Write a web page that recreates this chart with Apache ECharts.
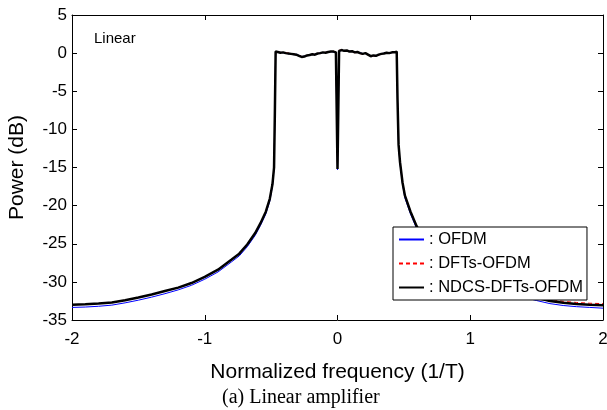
<!DOCTYPE html>
<html>
<head>
<meta charset="utf-8">
<script src="https://cdn.jsdelivr.net/npm/echarts@6/dist/echarts.min.js"></script>
<style>html,body{margin:0;padding:0;background:#fff}#c{width:607px;height:410px}</style>
</head>
<body>
<div id="c"></div>
<script>
const freq = [-2.0,-1.9,-1.8,-1.7,-1.6,-1.5,-1.4,-1.3,-1.2,-1.1,-1.0,-0.9,-0.8,-0.74,-0.68,-0.62,-0.58,-0.54,-0.51,-0.49,-0.478,-0.472,-0.466,
 -0.45,-0.43,-0.41,-0.39,-0.37,-0.35,-0.33,-0.31,-0.29,-0.27,-0.25,-0.23,-0.21,-0.19,-0.17,-0.15,-0.13,-0.11,-0.09,-0.07,-0.05,-0.03,
 -0.012,0,0.012,
 0.03,0.05,0.07,0.09,0.11,0.13,0.15,0.17,0.19,0.21,0.23,0.25,0.27,0.29,0.31,0.33,0.35,0.37,0.39,0.41,0.43,0.446,
 0.452,0.46,0.471,0.49,0.508,0.55,0.596,0.64,0.7,0.76,0.82,0.9,1.0,1.1,1.2,1.3,1.4,1.5,1.6,1.7,1.8,1.9,2.0];

const ofdm = [-33.35,-33.3,-33.2,-33.05,-32.75,-32.4,-32.0,-31.55,-31.05,-30.45,-29.65,-28.7,-27.4,-26.6,-25.4,-23.9,-22.6,-21.1,-19.4,-17.4,-15.1,-8.1,0.15,
 0.1,0.1,0.05,0.05,-0.1,-0.05,-0.2,-0.15,-0.3,-0.45,-0.4,-0.35,-0.2,-0.2,-0.15,-0.1,0.05,0.05,0.1,0.1,0.2,0.15,
 0.1,-15.3,0.25,
 0.35,0.35,0.3,0.25,0.2,0.15,0.1,0.05,-0.05,-0.05,-0.15,-0.35,-0.35,-0.3,-0.25,-0.1,0.0,0.0,0.05,0.05,0.15,0.15,
 -6.1,-12.1,-14.5,-17.2,-19.0,-21.1,-23.0,-24.3,-25.7,-26.9,-27.8,-28.7,-29.7,-30.45,-31.05,-31.55,-32.0,-32.45,-32.85,-33.1,-33.25,-33.35,-33.45];

const dfts = [-33.0,-32.95,-32.85,-32.7,-32.4,-32.05,-31.65,-31.2,-30.75,-30.15,-29.35,-28.4,-27.1,-26.3,-25.1,-23.6,-22.3,-20.8,-19.1,-17.2,-15.0,-8.0,0.2,
 0.15,0.1,0.05,0.05,0.0,-0.15,-0.1,-0.25,-0.3,-0.45,-0.5,-0.3,-0.3,-0.1,-0.2,0.0,-0.05,0.1,0.1,0.15,0.15,0.25,
 0.15,-15.1,0.35,
 0.45,0.35,0.3,0.25,0.2,0.05,0.1,-0.05,-0.15,-0.05,-0.25,-0.45,-0.35,-0.4,-0.25,-0.15,-0.05,0.0,0.05,0.05,0.1,0.2,
 -6.0,-12.0,-14.3,-16.9,-18.6,-20.7,-22.6,-23.9,-25.3,-26.5,-27.4,-28.3,-29.3,-30.0,-30.6,-31.05,-31.5,-31.95,-32.3,-32.55,-32.7,-32.8,-32.85];

const ndcs = [-33.0,-32.95,-32.85,-32.7,-32.4,-32.05,-31.65,-31.2,-30.75,-30.15,-29.35,-28.4,-27.1,-26.3,-25.1,-23.6,-22.3,-20.8,-19.1,-17.2,-15.0,-8.0,0.2,
 0.15,0.05,0.1,0.0,-0.05,-0.1,-0.15,-0.2,-0.35,-0.5,-0.45,-0.3,-0.25,-0.15,-0.2,-0.05,0.0,0.1,0.05,0.15,0.2,0.2,
 0.1,-15.2,0.3,
 0.4,0.3,0.35,0.2,0.25,0.1,0.15,0.0,-0.1,0.0,-0.2,-0.4,-0.3,-0.35,-0.2,-0.1,-0.05,0.05,0.0,0.1,0.1,0.2,
 -6.0,-12.0,-14.3,-17.0,-18.7,-20.8,-22.7,-24.0,-25.4,-26.6,-27.5,-28.4,-29.4,-30.15,-30.75,-31.2,-31.65,-32.1,-32.5,-32.75,-32.9,-33.0,-33.05];

const seriesNames = [': OFDM', ': DFTs-OFDM', ': NDCS-DFTs-OFDM'];
const xTicks = [-2, -1, 0, 1, 2];
const yTicks = [5, 0, -5, -10, -15, -20, -25, -30, -35];

const pairs = arr => freq.map((f, i) => [f, arr[i]]);
const FONT = 'Liberation Sans, Arial, sans-serif';

const chart = echarts.init(document.getElementById('c'), null, {renderer: 'canvas'});
const axisCommon = {
  type: 'value',
  axisLine: {show: true, onZero: false, lineStyle: {color: '#000', width: 1}},
  axisTick: {show: true, inside: true, length: 5, lineStyle: {color: '#000', width: 1}},
  splitLine: {show: false}
};
chart.setOption({
  animation: false,
  backgroundColor: '#fff',
  grid: {left: 72, right: 4, top: 15, bottom: 90, containLabel: false, outerBoundsMode: 'none'},
  xAxis: [
    Object.assign({}, axisCommon, {
      min: xTicks[0], max: xTicks[xTicks.length - 1], interval: 1, position: 'bottom',
      name: 'Normalized frequency (1/T)', nameLocation: 'middle', nameGap: 42,
      nameTextStyle: {fontFamily: FONT, fontSize: 21, color: '#000'},
      axisLabel: {fontFamily: FONT, fontSize: 17, color: '#000', margin: 11}
    }),
    Object.assign({}, axisCommon, {
      min: xTicks[0], max: xTicks[xTicks.length - 1], interval: 1, position: 'top',
      axisLabel: {show: false}
    })
  ],
  yAxis: [
    Object.assign({}, axisCommon, {
      min: yTicks[yTicks.length - 1], max: yTicks[0], interval: 5, position: 'left',
      name: 'Power (dB)', nameLocation: 'middle', nameGap: 44, nameRotate: 90,
      nameTextStyle: {fontFamily: FONT, fontSize: 21, color: '#000'},
      axisLabel: {fontFamily: FONT, fontSize: 17, color: '#000', margin: 5}
    }),
    Object.assign({}, axisCommon, {
      min: yTicks[yTicks.length - 1], max: yTicks[0], interval: 5, position: 'right',
      axisLabel: {show: false}
    })
  ],
  legend: {
    show: true, z: 20,
    orient: 'vertical', left: 393, top: 227,
    padding: [4, 4, 4, 5], itemGap: 7, itemWidth: 25, itemHeight: 14,
    backgroundColor: '#fff', borderColor: '#000', borderWidth: 1,
    itemStyle: {opacity: 0},
    textStyle: {fontFamily: FONT, fontSize: 16.5, color: '#000'},
    data: seriesNames
  },
  graphic: [
    {type: 'text', left: 94, top: 31, style: {text: 'Linear', font: '15px ' + FONT, fill: '#000'}},
    {type: 'text', left: 222, top: 388, style: {text: '(a) Linear amplifier', font: '20px "Liberation Serif", "Times New Roman", serif', fill: '#000'}}
  ],
  series: [
    {name: seriesNames[0], type: 'line', data: pairs(ofdm), symbol: 'none', lineStyle: {color: '#0000ff', width: 1}, itemStyle: {color: '#0000ff'}, z: 2},
    {name: seriesNames[1], type: 'line', data: pairs(dfts), symbol: 'none', lineStyle: {color: '#ff0000', width: 1, type: [4, 3]}, itemStyle: {color: '#ff0000'}, z: 3},
    {name: seriesNames[2], type: 'line', data: pairs(ndcs), symbol: 'none', lineStyle: {color: '#000', width: 2.5}, itemStyle: {color: '#000'}, z: 4}
  ]
});
</script>
</body>
</html>
